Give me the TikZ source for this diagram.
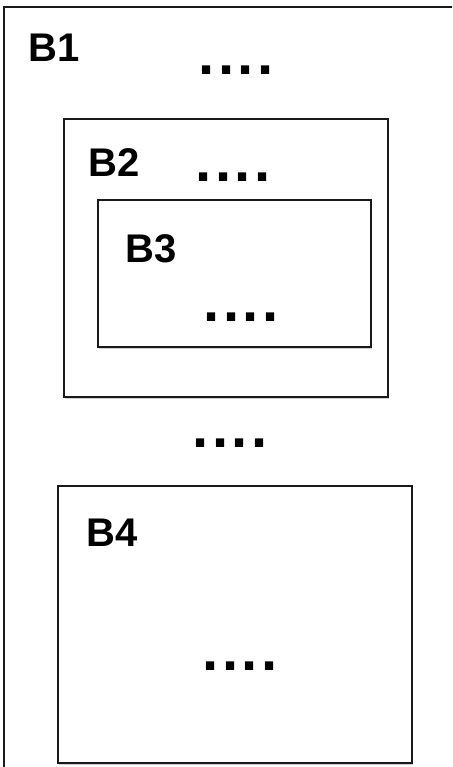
\documentclass[tikz,border=0pt]{standalone}
\usepackage{fontspec}
\setmainfont{Liberation Sans}
\usetikzlibrary{shadows}
\newcommand{\fourdots}{.\kern3.4pt.\kern3.4pt.\kern3.4pt.}
\begin{document}
\begin{tikzpicture}[x=1pt,y=-1pt,
  box/.style={draw=black!90, line width=1.2pt, fill=white,
    drop shadow={shadow xshift=1pt, shadow yshift=-1.5pt, opacity=0.18, fill=black}},
  lbl/.style={inner sep=0pt, anchor=base west, font=\fontsize{40}{40}\selectfont\bfseries},
  dots/.style={inner sep=0pt, anchor=base, font=\fontsize{58}{58}\selectfont\bfseries}]
\useasboundingbox (0,0) rectangle (452,767);
\clip (0,0) rectangle (452,767);
\fill[white] (0,0) rectangle (452,767);
\draw[box] (4,7) rectangle (470,790);
\draw[box] (64,119) rectangle (388,397);
\draw[box] (98,200) rectangle (371,347);
\draw[box] (58,486) rectangle (412,763);
\node[lbl] (l1) at (28.7,61.5) {B1};
\node[lbl] (l2) at (88.7,177) {B2};
\node[lbl] (l3) at (125,262) {B3};
\node[lbl] (l4) at (86,546) {B4};
\node[dots] (d1) at (236,75) {\fourdots};
\node[dots] (d2) at (233,182) {\fourdots};
\node[dots] (d3) at (241,321) {\fourdots};
\node[dots] (d0) at (230,447) {\fourdots};
\node[dots] (d4) at (240,670) {\fourdots};
\end{tikzpicture}
\end{document}
